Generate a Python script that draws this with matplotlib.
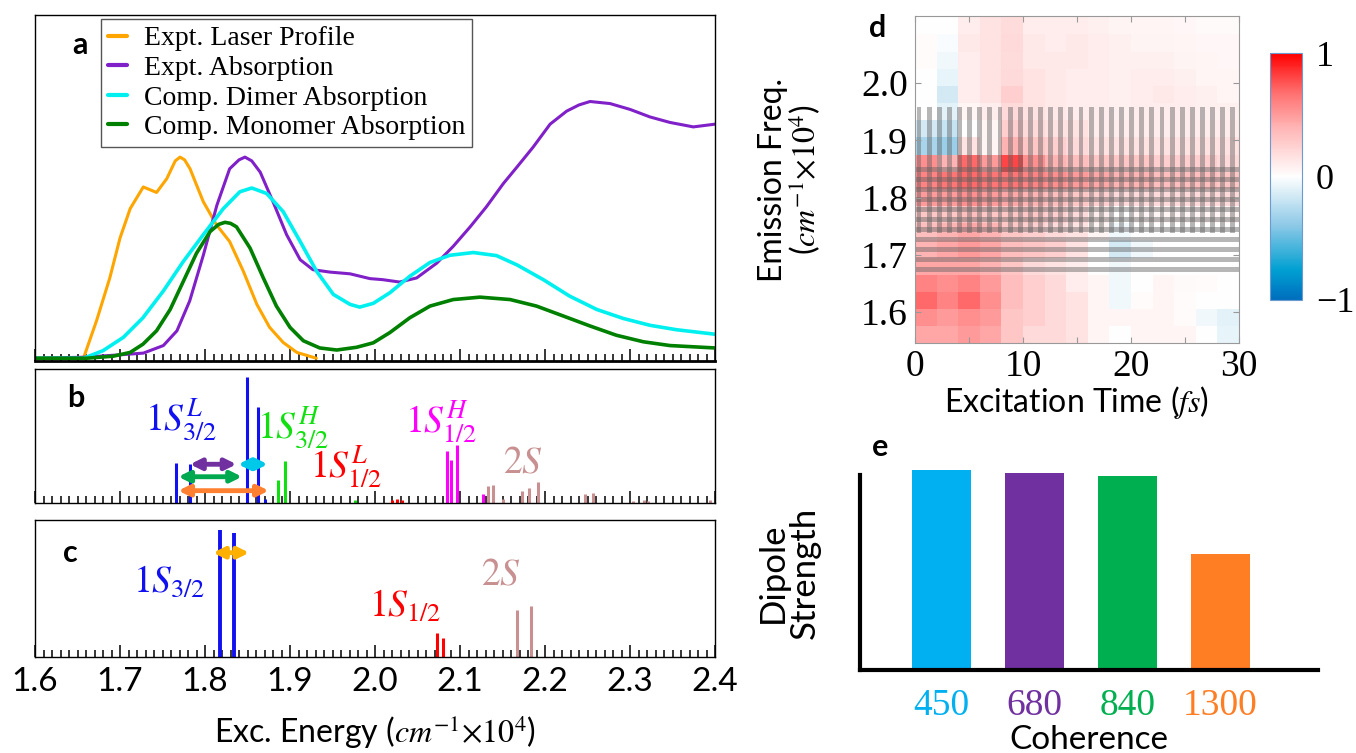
import numpy as np
import matplotlib
matplotlib.use('Agg')
import matplotlib.pyplot as plt
from matplotlib.colors import LinearSegmentedColormap
from matplotlib.ticker import MultipleLocator

plt.rcParams['font.family'] = ['Lato', 'DejaVu Sans']
plt.rcParams['mathtext.fontset'] = 'stix'

# ---------------- panel a: absorption spectra ----------------
laser_E = [1.60, 1.657, 1.6725, 1.688, 1.700, 1.712, 1.7274, 1.743, 1.755, 1.765, 1.7706, 1.776,
           1.7824, 1.798, 1.8137, 1.829, 1.845, 1.861, 1.876, 1.892, 1.908, 1.931]
laser_I = [0.0, 0.0, 0.11, 0.234, 0.35, 0.436, 0.499, 0.483, 0.523, 0.575, 0.586, 0.578,
           0.552, 0.456, 0.388, 0.34, 0.254, 0.157, 0.09, 0.046, 0.017, 0.0]

absn_E = [1.60, 1.657, 1.700, 1.7275, 1.751, 1.767, 1.782, 1.798, 1.814, 1.829, 1.840, 1.847,
          1.855, 1.865, 1.880, 1.896, 1.912, 1.927, 1.947, 1.9706, 1.994, 2.009, 2.029, 2.049,
          2.0726, 2.092, 2.112, 2.131, 2.151, 2.167, 2.186, 2.206, 2.2255, 2.240, 2.253, 2.2765,
          2.300, 2.3235, 2.347, 2.3745, 2.400]
absn_I = [0.0, 0.003, 0.01, 0.015, 0.037, 0.08, 0.167, 0.30, 0.446, 0.552, 0.578, 0.586,
          0.575, 0.542, 0.456, 0.36, 0.287, 0.258, 0.251, 0.246, 0.232, 0.229, 0.222, 0.234,
          0.277, 0.326, 0.383, 0.441, 0.509, 0.557, 0.615, 0.682, 0.72, 0.738, 0.748, 0.742,
          0.725, 0.703, 0.687, 0.674, 0.682]

dimer_E = [1.60, 1.657, 1.680, 1.704, 1.727, 1.751, 1.7745, 1.798, 1.8216, 1.841, 1.855,
           1.8726, 1.892, 1.912, 1.9314, 1.951, 1.9706, 1.982, 1.998, 2.0176, 2.041,
           2.0647, 2.088, 2.1157, 2.143, 2.167, 2.198, 2.229, 2.261, 2.292, 2.3235, 2.355, 2.40]
dimer_I = [0.0, 0.0, 0.022, 0.061, 0.118, 0.196, 0.282, 0.36, 0.436, 0.485, 0.496,
           0.48, 0.427, 0.34, 0.253, 0.186, 0.157, 0.149, 0.16, 0.191, 0.239,
           0.279, 0.30, 0.308, 0.299, 0.272, 0.229, 0.181, 0.142, 0.116, 0.096, 0.083, 0.07]

mono_E = [1.60, 1.66, 1.692, 1.712, 1.727, 1.743, 1.759, 1.7745, 1.790, 1.806, 1.816, 1.8235,
          1.830, 1.837, 1.853, 1.8686, 1.884, 1.900, 1.9157, 1.935, 1.955, 1.9784, 1.998,
          2.0176, 2.041, 2.0647, 2.092, 2.1235, 2.159, 2.190, 2.2216, 2.253, 2.284,
          2.3157, 2.347, 2.40]
mono_I = [0.0, 0.0, 0.006, 0.017, 0.041, 0.08, 0.142, 0.224, 0.306, 0.369, 0.39, 0.396,
          0.393, 0.383, 0.321, 0.234, 0.152, 0.09, 0.051, 0.03, 0.024, 0.032, 0.045,
          0.075, 0.118, 0.152, 0.171, 0.178, 0.171, 0.152, 0.123, 0.094, 0.067,
          0.048, 0.037, 0.03]

# ---------------- panel b: dimer transitions ----------------
b_blue_E = [1.7659, 1.7824, 1.8498, 1.862, 1.8706]
b_blue_h = [0.30, 0.29, 0.94, 0.72, 0.03]
b_green_E = [1.886, 1.8945, 1.9765]
b_green_h = [0.17, 0.31, 0.02]
b_red_E = [2.0196, 2.0255, 2.0314]
b_red_h = [0.025, 0.03, 0.025]
b_mag_E = [2.085, 2.0894, 2.0969, 2.1267]
b_mag_h = [0.39, 0.32, 0.43, 0.065]
b_2s_E = [2.1333, 2.139, 2.151, 2.1725, 2.1816, 2.1914, 2.247, 2.256, 2.304, 2.316, 2.321, 2.394]
b_2s_h = [0.13, 0.135, 0.03, 0.09, 0.115, 0.155, 0.067, 0.075, 0.015, 0.02, 0.015, 0.02]

# ---------------- panel c: monomer transitions ----------------
c_blue_E = [1.8176, 1.8346]
c_blue_h = [0.93, 0.905]
c_red_E = [2.0735, 2.080]
c_red_h = [0.175, 0.14]
c_2s_E = [2.1665, 2.183]
c_2s_h = [0.34, 0.37]

# ---------------- panel d: 2D map ----------------
exc_time = [1, 3, 5, 7, 9, 11, 13, 15, 17, 19, 21, 23, 25, 27, 29]
emis_freq = [1.56, 1.59, 1.62, 1.65, 1.68, 1.71, 1.74, 1.77, 1.80, 1.83,
             1.86, 1.89, 1.92, 1.95, 1.98, 2.01, 2.04, 2.07, 2.10]
signal = [
    [0.45, 0.45, 0.50, 0.45, 0.30, 0.20, 0.20, 0.15, 0.05, 0.00, 0.05, 0.05, 0.05, 0.00, -0.08],
    [0.55, 0.50, 0.55, 0.50, 0.30, 0.25, 0.20, 0.15, 0.05, 0.05, 0.05, 0.05, 0.02, -0.05, -0.10],
    [0.70, 0.60, 0.70, 0.55, 0.35, 0.25, 0.20, 0.15, 0.05, -0.05, 0.02, 0.05, 0.02, 0.00, 0.00],
    [0.60, 0.55, 0.60, 0.50, 0.35, 0.25, 0.20, 0.10, 0.05, -0.05, 0.00, 0.05, 0.03, 0.02, 0.00],
    [0.45, 0.45, 0.45, 0.40, 0.30, 0.20, 0.15, 0.10, 0.00, -0.05, 0.00, 0.00, 0.00, 0.00, 0.00],
    [0.40, 0.45, 0.50, 0.45, 0.35, 0.30, 0.25, 0.15, 0.00, -0.15, -0.05, 0.00, 0.00, 0.00, 0.00],
    [0.35, 0.40, 0.45, 0.40, 0.30, 0.25, 0.20, 0.15, 0.05, -0.05, 0.00, 0.00, 0.00, 0.00, 0.00],
    [0.30, 0.30, 0.35, 0.30, 0.30, 0.30, 0.25, 0.20, 0.10, 0.00, 0.05, 0.05, 0.05, 0.05, 0.05],
    [0.50, 0.50, 0.55, 0.50, 0.45, 0.40, 0.35, 0.30, 0.25, 0.20, 0.20, 0.20, 0.20, 0.20, 0.20],
    [0.60, 0.65, 0.70, 0.65, 0.65, 0.60, 0.55, 0.50, 0.45, 0.40, 0.40, 0.35, 0.35, 0.35, 0.30],
    [0.55, 0.40, 0.70, 0.50, 0.80, 0.55, 0.40, 0.35, 0.30, 0.30, 0.30, 0.25, 0.25, 0.25, 0.20],
    [-0.30, -0.35, 0.15, 0.05, 0.40, 0.30, 0.25, 0.20, 0.15, 0.15, 0.15, 0.15, 0.15, 0.15, 0.15],
    [-0.15, -0.20, 0.00, 0.05, 0.25, 0.20, 0.15, 0.15, 0.10, 0.10, 0.10, 0.10, 0.10, 0.10, 0.10],
    [0.00, -0.10, 0.05, 0.10, 0.20, 0.15, 0.12, 0.10, 0.10, 0.08, 0.10, 0.10, 0.10, 0.08, 0.08],
    [0.00, -0.15, 0.10, 0.15, 0.25, 0.15, 0.12, 0.10, 0.10, 0.08, 0.10, 0.12, 0.10, 0.08, 0.05],
    [0.00, -0.08, 0.10, 0.15, 0.20, 0.15, 0.12, 0.10, 0.10, 0.08, 0.10, 0.10, 0.08, 0.05, 0.05],
    [0.02, -0.05, 0.10, 0.15, 0.18, 0.12, 0.12, 0.12, 0.10, 0.08, 0.08, 0.08, 0.06, 0.05, 0.04],
    [0.02, -0.02, 0.12, 0.15, 0.20, 0.12, 0.10, 0.12, 0.10, 0.08, 0.06, 0.06, 0.05, 0.04, 0.04],
    [0.00, 0.00, 0.10, 0.15, 0.18, 0.10, 0.10, 0.10, 0.08, 0.06, 0.05, 0.05, 0.04, 0.03, 0.03],
]

# ---------------- panel e: dipole strength ----------------
coherence = ['450', '680', '840', '1300']
dipole = [1.0, 0.985, 0.97, 0.58]
bar_colors = ['#00b0f0', '#7030a0', '#00b050', '#ff7d23']

W, H = 1356, 753
fig = plt.figure(figsize=(W / 100, H / 100), dpi=100)


def box(l, t, r, b):
    return [l / W, 1 - b / H, (r - l) / W, (b - t) / H]


def energy_axis(ax):
    ax.set_xlim(1.6, 2.4)
    ax.xaxis.set_major_locator(MultipleLocator(0.1))
    ax.xaxis.set_minor_locator(MultipleLocator(0.01))
    ax.tick_params(which='both', direction='in', top=False, left=False, right=False,
                   labelleft=False, labelbottom=False, width=1.1)
    ax.tick_params(which='major', length=9)
    ax.tick_params(which='minor', length=5)
    ax.set_yticks([])
    for s in ax.spines.values():
        s.set_linewidth(1.0)


# panel a
ax_a = fig.add_axes(box(35, 15, 715, 361))
line_kw = dict(solid_joinstyle='round', solid_capstyle='round')
ax_a.plot(laser_E, laser_I, color='#ffa500', lw=2.2, label='Expt. Laser Profile', **line_kw)
ax_a.plot(absn_E, absn_I, color='#8020c8', lw=2.2, label='Expt. Absorption', **line_kw)
ax_a.plot(dimer_E, dimer_I, color='#00f0f0', lw=2.6, label='Comp. Dimer Absorption', **line_kw)
ax_a.plot(mono_E, mono_I, color='#008000', lw=2.6, label='Comp. Monomer Absorption', **line_kw)
energy_axis(ax_a)
ax_a.spines['bottom'].set_linewidth(2)
ax_a.set_ylim(-0.008, 1)
leg = ax_a.legend(loc='upper left', bbox_to_anchor=(101 / W, 1 - 19 / H),
                  bbox_transform=fig.transFigure, borderaxespad=0, fancybox=False,
                  edgecolor='#555555', framealpha=1, handlelength=0.7, handletextpad=0.6,
                  labelspacing=0.15, borderpad=0.25,
                  prop={'family': 'Liberation Serif', 'size': 20})
leg.get_frame().set_linewidth(1.0)
for h in leg.get_lines():
    h.set_linewidth(3)
fig.text(80 / W, 1 - 45 / H, 'a', fontsize=22, fontweight='bold', ha='center', va='center')

# panel b
ax_b = fig.add_axes(box(35, 369, 715, 503))
energy_axis(ax_b)
ax_b.set_ylim(0, 1)
ax_b.vlines(b_blue_E, 0, b_blue_h, color='#1010f0', lw=2.2)
ax_b.vlines(b_green_E, 0, b_green_h, color='#10e010', lw=2.2)
ax_b.vlines(b_red_E, 0, b_red_h, color='#ff0000', lw=2.2)
ax_b.vlines(b_mag_E, 0, b_mag_h, color='#ff00ff', lw=2.2)
ax_b.vlines(b_2s_E, 0, b_2s_h, color='#c89090', lw=2.2)
arrows_b = [(1.7824, 1.837, 0.289, '#7030a0'), (1.839, 1.8738, 0.289, '#00c8e8'),
            (1.7686, 1.8435, 0.196, '#00a850'), (1.7686, 1.875, 0.092, '#ff8030')]
for x0, x1, yy, col in arrows_b:
    ax_b.annotate('', xy=(x1, yy), xytext=(x0, yy),
                  arrowprops=dict(arrowstyle='<|-|>', color=col, lw=3.5, mutation_scale=16,
                                  shrinkA=0, shrinkB=0))
lab_kw = dict(fontsize=27, ha='left', va='baseline')
ax_b.text(1.7294, 0.545, r'$1S^{L}_{3/2}$', color='#1010f0', **lab_kw)
ax_b.text(1.861, 0.485, r'$1S^{H}_{3/2}$', color='#10e010', **lab_kw)
ax_b.text(1.9235, 0.187, r'$1S^{L}_{1/2}$', color='#ff0000', **lab_kw)
ax_b.text(2.0353, 0.522, r'$1S^{H}_{1/2}$', color='#ff00ff', **lab_kw)
ax_b.text(2.1506, 0.224, r'$2S$', color='#c89090', **lab_kw)
fig.text(76 / W, 1 - 398 / H, 'b', fontsize=22, fontweight='bold', ha='center', va='center')

# panel c
ax_c = fig.add_axes(box(35, 520, 715, 657))
energy_axis(ax_c)
ax_c.set_ylim(0, 1)
ax_c.tick_params(labelbottom=True, labelsize=24, pad=7)
ax_c.set_xticklabels([f'{v:.1f}' for v in ax_c.get_xticks()])
ax_c.vlines(c_blue_E, 0, c_blue_h, color='#1010f0', lw=2.8)
ax_c.vlines(c_red_E, 0, c_red_h, color='#ff0000', lw=2.2)
ax_c.vlines(c_2s_E, 0, c_2s_h, color='#c89090', lw=2.2)
ax_c.annotate('', xy=(1.852, 0.761), xytext=(1.8095, 0.761),
              arrowprops=dict(arrowstyle='<|-|>', color='#ffb000', lw=3.5, mutation_scale=16,
                              shrinkA=0, shrinkB=0))
ax_c.text(1.7153, 0.474, r'$1S_{3/2}$', color='#1010f0', **lab_kw)
ax_c.text(1.993, 0.292, r'$1S_{1/2}$', color='#ff0000', **lab_kw)
ax_c.text(2.1247, 0.526, r'$2S$', color='#c89090', **lab_kw)
ax_c.set_xlabel(r'Exc. Energy ($cm^{-1}{\times}10^{4}$)', fontsize=23, labelpad=12)
fig.text(70 / W, 1 - 553 / H, 'c', fontsize=22, fontweight='bold', ha='center', va='center')

# panel d
cmap = LinearSegmentedColormap.from_list('rb', [(0.0, '#006ebe'), (0.12, '#00a0d2'),
                                                (0.3, '#8cc8e6'), (0.5, '#ffffff'),
                                                (0.7, '#ffb4b4'), (0.85, '#ff6a6a'),
                                                (1.0, '#ff0000')])
ax_d = fig.add_axes(box(915, 16, 1239, 343))
mesh = ax_d.pcolormesh(exc_time, emis_freq, np.array(signal), cmap=cmap, vmin=-1, vmax=1,
                       shading='nearest')
# grey striped overlays
v_centers = (np.arange(32) + 0.4) * 30 / 32
ax_d.bar(v_centers, 1.958 - 1.738, bottom=1.738, width=0.45, color='#606060', alpha=0.45,
         linewidth=0)
h_centers = 1.849 - np.arange(11) * 0.0175
ax_d.barh(h_centers, 30, left=0, height=0.0085, color='#606060', alpha=0.45, linewidth=0)
ax_d.set_xlim(0, 30)
ax_d.set_ylim(1.546, 2.117)
ax_d.set_xticks([0, 5, 10, 15, 20, 25, 30])
ax_d.set_xticklabels(['0', '', '10', '', '20', '', '30'])
ax_d.set_yticks([1.6, 1.7, 1.8, 1.9, 2.0])
ax_d.set_yticklabels(['1.6', '1.7', '1.8', '1.9', '2.0'])
ax_d.tick_params(direction='in', top=True, right=True, length=4, color='#999999',
                 labelsize=27, pad=5)
for lbl in ax_d.get_xticklabels() + ax_d.get_yticklabels():
    lbl.set_family('Liberation Serif')
for s in ax_d.spines.values():
    s.set_color('#999999')
ax_d.set_xlabel(r'Excitation Time ($fs$)', fontsize=23, labelpad=0)
ax_d.set_ylabel('Emission Freq.\n' + r'($cm^{-1}{\times}10^{4}$)', fontsize=23, labelpad=28,
                linespacing=0.95)
fig.text(878 / W, 1 - 28 / H, 'd', fontsize=22, fontweight='bold', ha='center', va='center')

cax = fig.add_axes(box(1270, 53, 1302, 300))
cb = fig.colorbar(mesh, cax=cax)
cb.set_ticks([-1, 0, 1])
cb.set_ticklabels(['\u22121', '0', '1'])
cb.outline.set_edgecolor('#6a9ad0')
cb.outline.set_linewidth(0.8)
cax.tick_params(length=0, labelsize=26, pad=10)
for lbl in cax.get_yticklabels():
    lbl.set_family('Liberation Serif')

# panel e
ax_e = fig.add_axes(box(860, 475, 1318, 670))
ax_e.bar(range(len(dipole)), dipole, width=0.64, color=bar_colors, clip_on=False)
ax_e.set_xlim(-0.88, 4.05)
ax_e.set_ylim(0, 0.975)
ax_e.set_yticks([])
ax_e.set_xticks(range(len(coherence)))
ax_e.set_xticklabels(coherence)
for lbl, col in zip(ax_e.get_xticklabels(), bar_colors):
    lbl.set_color(col)
    lbl.set_family('Liberation Serif')
ax_e.tick_params(axis='x', length=0, labelsize=27, pad=13)
for side in ['top', 'right']:
    ax_e.spines[side].set_visible(False)
for side in ['left', 'bottom']:
    ax_e.spines[side].set_linewidth(3)
ax_e.set_xlabel('Coherence', fontsize=24, labelpad=2)
ax_e.set_ylabel('Dipole\nStrength', fontsize=25, labelpad=28, linespacing=1.0)
fig.text(880 / W, 1 - 447 / H, 'e', fontsize=22, fontweight='bold', ha='center', va='center')

fig.savefig('out.png', dpi=100)
